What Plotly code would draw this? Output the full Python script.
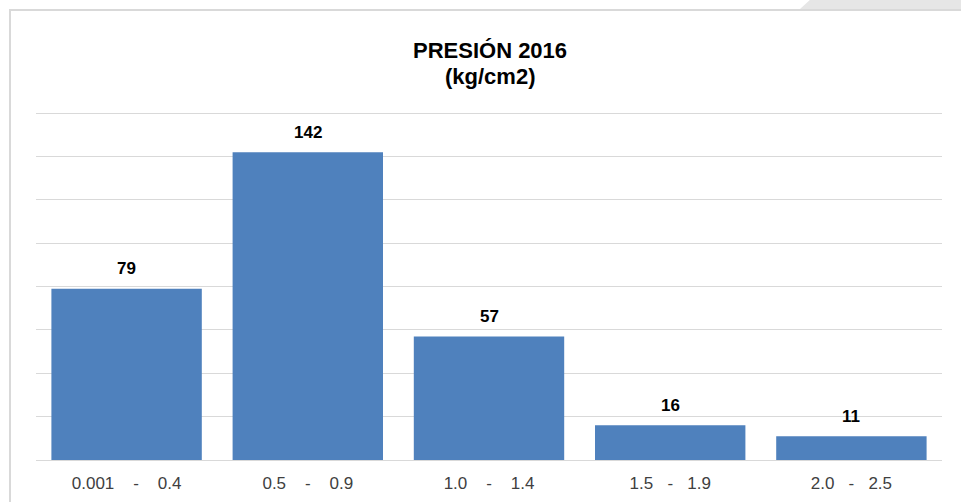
import plotly.graph_objects as go

NB = "\u00a0"
categories = ["0.001" + NB*4 + "-" + NB*4 + "0.4",
              "0.5" + NB*4 + "-" + NB*4 + "0.9",
              "1.0" + NB*4 + "-" + NB*4 + "1.4",
              "1.5" + NB*3 + "-" + NB*3 + "1.9",
              "2.0" + NB*3 + "-" + NB*3 + "2.5"]
values = [79, 142, 57, 16, 11]
title_lines = ["PRESIÓN 2016", "(kg/cm2)"]

W, H = 961, 502
L, R, T, B = 36, 19, 112, 42
pw, ph = W - L - R, H - T - B

def px(x):
    return (x - L) / pw

def py(y):
    return (H - B - y) / ph

fig = go.Figure(go.Bar(
    x=categories, y=values,
    marker=dict(color="#4F81BD", line=dict(color="#4F81BD", width=0)),
    hoverinfo="x+y",
))

annotations = []
for line, ypos in zip(title_lines, [51, 77]):
    annotations.append(dict(text=f"<b>{line}</b>",
                            xref="paper", yref="paper", x=px(490), y=py(ypos),
                            xanchor="center", yanchor="middle", showarrow=False,
                            font=dict(family="Liberation Sans, Arial", size=22, color="#000000")))
for c, v in zip(categories, values):
    annotations.append(dict(x=c, y=v, xref="x", yref="y", text=f"<b>{v}</b>",
                            showarrow=False, yanchor="middle", yshift=20,
                            font=dict(family="Liberation Sans, Arial", size=17, color="#000000")))

shapes = [
    dict(type="rect", xref="paper", yref="paper",
         x0=px(10), x1=px(975), y0=py(520), y1=py(10),
         line=dict(color="#d9d9d9", width=2), fillcolor="rgba(0,0,0,0)", layer="below"),
    dict(type="path", xref="paper", yref="paper",
         path=f"M {px(800)},{py(9)} L {px(812)},{py(-2)} L {px(965)},{py(-2)} L {px(965)},{py(9)} Z",
         fillcolor="#e6e6e6", line=dict(width=0), layer="below"),
]

fig.update_layout(
    width=W, height=H,
    margin=dict(l=L, r=R, t=T, b=B, autoexpand=False),
    paper_bgcolor="white", plot_bgcolor="white",
    bargap=0.17,
    showlegend=False,
    shapes=shapes,
    annotations=annotations,
    xaxis=dict(showgrid=False, showline=False, ticks="", ticklabelstandoff=11,
               automargin=False,
               tickfont=dict(family="Liberation Sans, Arial", size=17, color="#404040")),
    yaxis=dict(range=[0, 160.6], dtick=20, showticklabels=False, showgrid=True,
               automargin=False,
               gridcolor="#d9d9d9", gridwidth=1, zeroline=True, zerolinecolor="#d9d9d9",
               zerolinewidth=1, showline=False, ticks=""),
)

fig.write_html("out.html", config={"displayModeBar": False},
               post_script="document.body.style.margin='0';document.body.style.overflow='hidden';")
